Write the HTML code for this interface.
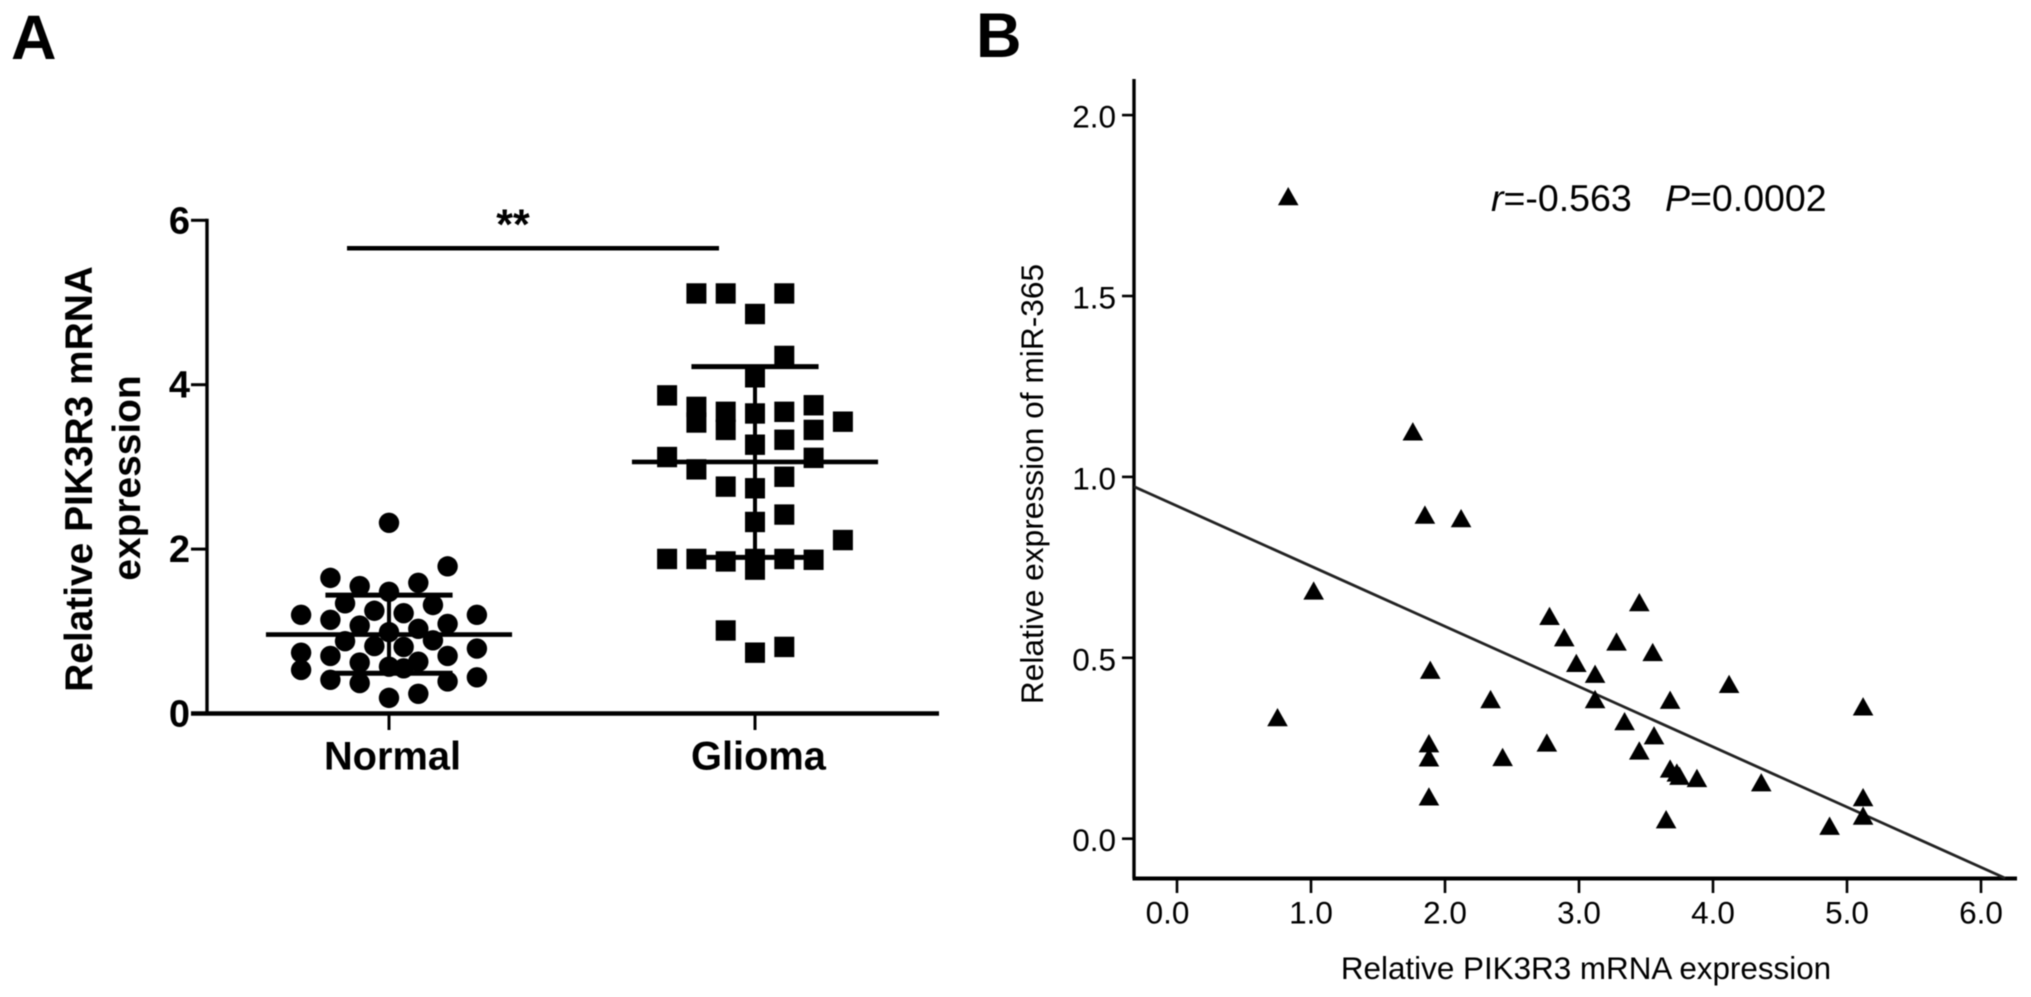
<!DOCTYPE html>
<html lang="en">
<head>
<meta charset="utf-8">
<title>PIK3R3 and miR-365 expression</title>
<style>
html,body{margin:0;padding:0;background:#fff;width:2031px;height:997px;overflow:hidden}
svg{display:block;filter:blur(0.5px)}
text{font-family:"Liberation Sans",sans-serif;fill:#000}
.b{font-weight:bold}
</style>
</head>
<body>
<svg id="fig" xmlns="http://www.w3.org/2000/svg" width="2031" height="997" viewBox="0 0 2031 997">
  <rect x="0" y="0" width="2031" height="997" fill="#fff"/>
  <text class="b" x="11" y="59" font-size="63">A</text>
  <text class="b" x="976" y="57" font-size="63">B</text>

  <g id="panelA">
    <text class="b" font-size="38.9" text-anchor="middle" transform="translate(92 479) rotate(-90)">Relative PIK3R3 mRNA</text>
    <text class="b" font-size="38.9" text-anchor="middle" transform="translate(140 478) rotate(-90)">expression</text>
    <text class="b" font-size="43" text-anchor="middle" x="513" y="239">**</text>
  </g>

  <g id="panelB">
    <text font-size="31.7" text-anchor="middle" transform="translate(1043 484) rotate(-90)">Relative expression of miR-365</text>
    <text font-size="31.4" text-anchor="middle" x="1586" y="979">Relative PIK3R3 mRNA expression</text>
    <text font-size="37.5" x="1491" y="211"><tspan font-style="italic">r</tspan>=-0.563</text>
    <text font-size="37.5" x="1665" y="211"><tspan font-style="italic">P</tspan>=0.0002</text>
  </g>
</svg>
<script>
// ---------- Panel A data ----------
const groupLabels = ["Normal", "Glioma"];
const yTicksA = [0, 2, 4, 6];
const normalValues = [2.32,1.79,1.65,1.59,1.55,1.48,1.34,1.32,1.25,1.22,1.20,1.20,1.14,1.09,1.07,1.03,0.99,0.88,0.89,0.82,0.81,0.79,0.74,0.70,0.70,0.62,0.63,0.57,0.55,0.53,0.44,0.41,0.39,0.37,0.24,0.19];
const normalSwarm = [0,2,-2,1,-1,0,-1.5,1.5,-0.5,0.5,-3,3,-2,2,-1,1,0,-1.5,1.5,-0.5,0.5,3,-3,-2,2,-1,1,0,0.5,-3,3,-2,2,-1,1,0];
const gliomaValues = [5.11,5.11,5.11,4.86,4.35,4.09,3.87,3.75,3.73,3.54,3.67,3.45,3.65,3.67,3.55,3.45,3.33,3.27,3.12,3.11,2.97,2.88,2.76,2.74,2.33,2.42,2.11,1.88,1.88,1.85,1.88,1.75,1.88,1.87,1.01,0.81,0.74];
const gliomaSwarm = [-2,-1,1,0,1,0,-3,2,-2,-2,-1,-1,0,1,3,2,1,0,-3,2,-2,1,-1,0,0,1,3,-3,-2,-1,0,0,1,2,-1,1,0];
const groupMeans = [0.96, 3.06];
const groupUpper = [1.44, 4.22];
const groupLower = [0.49, 1.90];
const significanceSpan = [5.66];

// ---------- Panel B data ----------
const xTicksB = [0, 1, 2, 3, 4, 5, 6];
const yTicksB = [0, 0.5, 1, 1.5, 2];
const pik3r3Values = [0.83,1.76,1.85,2.12,1.02,3.45,2.78,2.89,3.28,3.55,2.98,3.12,1.89,4.12,2.34,3.12,3.68,5.12,0.75,3.34,3.56,1.88,2.76,1.88,2.43,3.45,3.68,3.73,3.75,3.88,4.36,5.12,1.88,5.12,3.65,4.87];
const mir365Values = [1.775,1.125,0.895,0.885,0.685,0.653,0.615,0.556,0.544,0.515,0.485,0.455,0.466,0.427,0.385,0.385,0.383,0.365,0.335,0.324,0.285,0.263,0.265,0.224,0.225,0.243,0.193,0.182,0.173,0.167,0.155,0.114,0.116,0.063,0.053,0.035];
const fitLineX = [-0.32, 6.18];
const fitLineY = [0.973, -0.109];

// ---------- axis functions ----------
const yA = v => 713.5 - v * 82.2;
const xA = (i, swarm) => 389 + i * 366 + (swarm || 0) * 29.3;
const xB = v => 1177 + v * 134;
const yB = v => 838.7 - v * 361.8;

const NS = "http://www.w3.org/2000/svg";
const panelA = document.getElementById("panelA");
const panelB = document.getElementById("panelB");

function mk(tag, parent, attrs) {
  const el = document.createElementNS(NS, tag);
  for (const k in attrs) el.setAttribute(k, attrs[k]);
  parent.appendChild(el);
  return el;
}
function line(parent, x1, y1, x2, y2, w, color) {
  return mk("line", parent, {x1, y1, x2, y2, stroke: color || "#000", "stroke-width": w});
}
function label(parent, str, x, y, size, anchor, bold) {
  const t = mk("text", parent, {x, y, "font-size": size, "text-anchor": anchor});
  if (bold) t.setAttribute("class", "b");
  t.textContent = str;
  return t;
}

// ---------- Panel A ----------
let el;
el = line(panelA, 207, yA(6) - 1.5, 207, yA(0), 3.4);


el = line(panelA, 191, yA(0), 939, yA(0), 4.6);



yTicksA.forEach(v => {
  el = line(panelA, 191, yA(v), 207, yA(v), 3);
  
  
  el = label(panelA, String(v), 190, yA(v) + 13, 38, "end", true);
  
  
});
groupLabels.forEach((name, i) => {
  el = line(panelA, xA(i), yA(0), xA(i), 730, 3);
  
  
  el = label(panelA, name, xA(i) + 3.5, 769.5, 39.8, "middle", true);
  
  
});

el = line(panelA, 347, yA(significanceSpan[0]), 719, yA(significanceSpan[0]), 4.6);



normalValues.forEach((v, i) => {
  el = mk("circle", panelA, {cx: xA(0, normalSwarm[i]), cy: yA(v), r: 10.2, fill: "#000"});
  
  
});
gliomaValues.forEach((v, i) => {
  el = mk("rect", panelA, {x: xA(1, gliomaSwarm[i]) - 10, y: yA(v) - 10.2, width: 20, height: 20.4, fill: "#000"});
  
  
});
groupLabels.forEach((name, i) => {
  el = line(panelA, xA(i, -4.2), yA(groupMeans[i]), xA(i, 4.2), yA(groupMeans[i]), 4.6);
  
  
  el = line(panelA, xA(i), yA(groupUpper[i]), xA(i), yA(groupLower[i]), 4);
  
  
  el = line(panelA, xA(i, -2.17), yA(groupUpper[i]), xA(i, 2.17), yA(groupUpper[i]), 5);
  
  
  el = line(panelA, xA(i, -2.17), yA(groupLower[i]), xA(i, 2.17), yA(groupLower[i]), 5);
  
  
});

// ---------- Panel B ----------
el = line(panelB, 1134, 79, 1134, 878.5, 3.4);


el = line(panelB, 1132.5, 878.5, 2017, 878.5, 4);



yTicksB.forEach(v => {
  el = line(panelB, 1122, yB(v), 1134, yB(v), 2.6);
  
  
  el = label(panelB, v.toFixed(1), 1116, yB(v) + 12.5, 31.5, "end", false);
  
  
});
xTicksB.forEach(v => {
  el = line(panelB, xB(v), 878, xB(v), 893, 2.6);
  
  
  el = label(panelB, v.toFixed(1), xB(v) - (v === 0 ? 9.5 : 0), 923.5, 31.5, "middle", false);
  
  
});

el = line(panelB, xB(fitLineX[0]), yB(fitLineY[0]), xB(fitLineX[1]), yB(fitLineY[1]), 2.8, "#222");



pik3r3Values.forEach((xv, i) => {
  const cx = xB(xv), cy = yB(mir365Values[i]);
  el = mk("polygon", panelB, {points: `${cx},${cy - 9.5} ${cx + 10.3},${cy + 8.8} ${cx - 10.3},${cy + 8.8}`, fill: "#000"});
  
  
});
</script>
</body>
</html>
